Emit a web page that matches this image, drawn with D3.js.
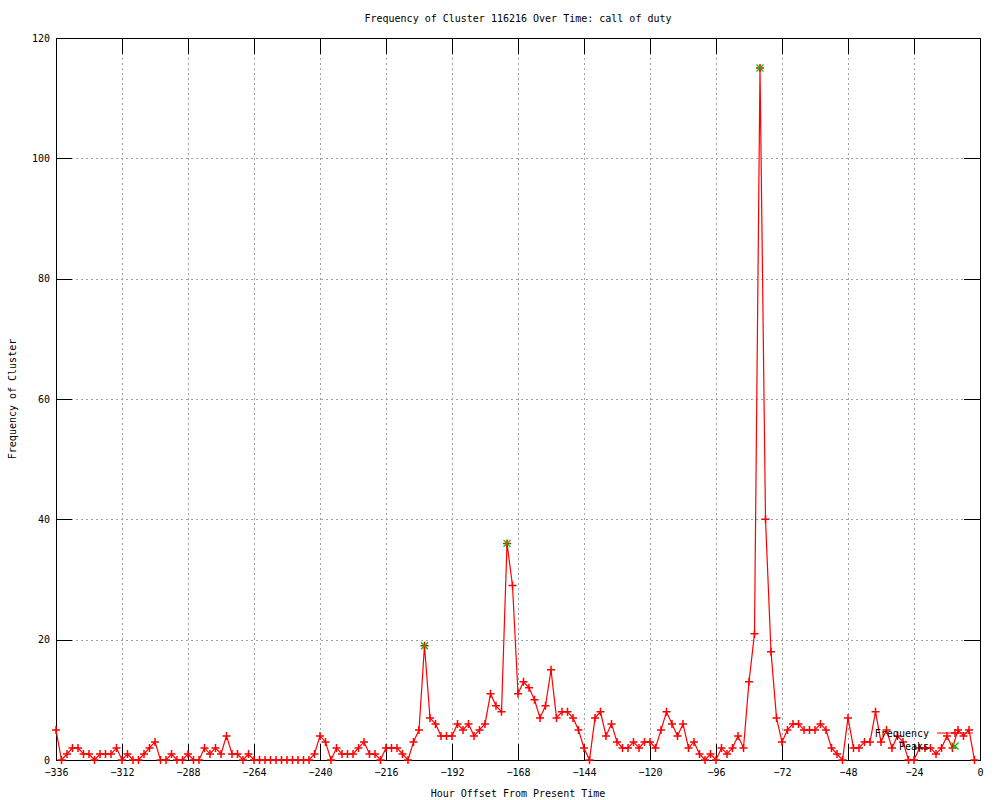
<!DOCTYPE html>
<html>
<head>
<meta charset="utf-8">
<script src="https://cdnjs.cloudflare.com/ajax/libs/d3/7.8.5/d3.min.js"></script>
<style>
  body { margin: 0; background: #fff; }
  svg text { font-family: "DejaVu Sans Mono", monospace; font-size: 10px; fill: #000; }
</style>
</head>
<body>
<div id="chart"></div>
<script>
// hour offsets (x) and cluster frequency (y)
var hours = [
  -336,-334,-332,-330,-328,-326,-324,-322,-320,-318,-316,-314,
  -312,-310,-308,-306,-304,-302,-300,-298,-296,-294,-292,-290,
  -288,-286,-284,-282,-280,-278,-276,-274,-272,-270,-268,-266,
  -264,-262,-260,-258,-256,-254,-252,-250,-248,-246,-244,-242,
  -240,-238,-236,-234,-232,-230,-228,-226,-224,-222,-220,-218,
  -216,-214,-212,-210,-208,-206,-204,-202,-200,-198,-196,-194,
  -192,-190,-188,-186,-184,-182,-180,-178,-176,-174,-172,-170,
  -168,-166,-164,-162,-160,-158,-156,-154,-152,-150,-148,-146,
  -144,-142,-140,-138,-136,-134,-132,-130,-128,-126,-124,-122,
  -120,-118,-116,-114,-112,-110,-108,-106,-104,-102,-100,-98,
  -96,-94,-92,-90,-88,-86,-84,-82,-80,-78,-76,-74,
  -72,-70,-68,-66,-64,-62,-60,-58,-56,-54,-52,-50,
  -48,-46,-44,-42,-40,-38,-36,-34,-32,-30,-28,-26,
  -24,-22,-20,-18,-16,-14,-12,-10,-8,-6,-4,-2
];
var frequency = [
  5,0,1,2,2,1,1,0,1,1,1,2,
  0,1,0,0,1,2,3,0,0,1,0,0,
  1,0,0,2,1,2,1,4,1,1,0,1,
  0,0,0,0,0,0,0,0,0,0,0,1,
  4,3,0,2,1,1,1,2,3,1,1,0,
  2,2,2,1,0,3,5,19,7,6,4,4,
  4,6,5,6,4,5,6,11,9,8,36,29,
  11,13,12,10,7,9,15,7,8,8,7,5,
  2,0,7,8,4,6,3,2,2,3,2,3,
  3,2,5,8,6,4,6,2,3,1,0,1,
  0,2,1,2,4,2,13,21,115,40,18,7,
  3,5,6,6,5,5,5,6,5,2,1,0,
  7,2,2,3,3,8,3,5,2,4,3,0,
  0,2,2,2,1,2,4,2,5,4,5,0
];
var peakHours = [-202, -172, -80];
var peakValues = [19, 36, 115];

var xTicks = [-336,-312,-288,-264,-240,-216,-192,-168,-144,-120,-96,-72,-48,-24,0];
var yTicks = [0,20,40,60,80,100,120];

var title = "Frequency of Cluster 116216 Over Time: call of duty";
var xTitle = "Hour Offset From Present Time";
var yTitle = "Frequency of Cluster";

var freqData = hours.map(function(h, i) { return {h: h, v: frequency[i]}; });
var peakData = peakHours.map(function(h, i) { return {h: h, v: peakValues[i]}; });

// size settings
var tot_width = 1000, tot_height = 800;
var margin = {top: 38, right: 20, bottom: 40, left: 56};
var width = tot_width - margin.left - margin.right,
    height = tot_height - margin.top - margin.bottom;
var tick_len = 16;

var svg = d3.select("#chart").append("svg")
  .attr("width", tot_width).attr("height", tot_height);
var g = svg.append("g")
  .attr("transform", "translate(" + margin.left + "," + margin.top + ")");

var x = d3.scaleLinear().domain([-336, 0]).range([0, width]);
var y = d3.scaleLinear().domain([0, 120]).range([height, 0]);

// grid
var grid = g.append("g").attr("class", "grid").style("shape-rendering", "crispEdges");
grid.selectAll("line.gx").data(xTicks.slice(1, -1)).enter().append("line")
  .attr("x1", function(d) { return Math.round(x(d)) + 0.5; })
  .attr("x2", function(d) { return Math.round(x(d)) + 0.5; })
  .attr("y1", 0).attr("y2", height)
  .attr("stroke", "#a0a0a0").attr("stroke-dasharray", "2,3");
grid.selectAll("line.gy").data(yTicks.slice(1, -1)).enter().append("line")
  .attr("y1", function(d) { return Math.round(y(d)) + 0.5; })
  .attr("y2", function(d) { return Math.round(y(d)) + 0.5; })
  .attr("x1", 0).attr("x2", width)
  .attr("stroke", "#a0a0a0").attr("stroke-dasharray", "2,3");

// axes, ticks inward and mirrored
var xAxis = g.append("g").attr("transform", "translate(0," + height + ")")
  .call(d3.axisBottom(x).tickValues(xTicks).tickSizeInner(-tick_len).tickSizeOuter(0).tickPadding(9).tickFormat(d3.format("d")));
var xAxisTop = g.append("g")
  .call(d3.axisTop(x).tickValues(xTicks).tickSizeInner(-tick_len).tickSizeOuter(0).tickFormat(""));
var yAxis = g.append("g")
  .call(d3.axisLeft(y).tickValues(yTicks).tickSizeInner(-tick_len).tickSizeOuter(0).tickPadding(6));
var yAxisRight = g.append("g").attr("transform", "translate(" + width + ",0)")
  .call(d3.axisRight(y).tickValues(yTicks).tickSizeInner(-tick_len).tickSizeOuter(0).tickFormat(""));
[xAxis, xAxisTop, yAxis, yAxisRight].forEach(function(a) {
  a.select(".domain").remove();
  a.selectAll("line").attr("stroke", "#000").style("shape-rendering", "crispEdges");
  a.selectAll("text").attr("font-family", null).attr("font-size", null).attr("fill", "#000");
});

// border
g.append("rect").attr("x", 0.5).attr("y", 0.5).attr("width", width).attr("height", height)
  .attr("fill", "none").attr("stroke", "#000").style("shape-rendering", "crispEdges");

// frequency line
var line = d3.line().x(function(d) { return x(d.h); }).y(function(d) { return y(d.v); });
g.append("path").datum(freqData)
  .attr("d", line).attr("fill", "none").attr("stroke", "#ff0000").attr("stroke-width", 1.2);

function plus(sel, cx, cy, s, color) {
  sel.append("path")
    .attr("d", "M" + (cx - s) + "," + cy + "H" + (cx + s) + "M" + cx + "," + (cy - s) + "V" + (cy + s))
    .attr("stroke", color).attr("stroke-width", 1.5).attr("fill", "none");
}
function cross(sel, cx, cy, s, color) {
  sel.append("path")
    .attr("d", "M" + (cx - s) + "," + (cy - s) + "L" + (cx + s) + "," + (cy + s) +
               "M" + (cx - s) + "," + (cy + s) + "L" + (cx + s) + "," + (cy - s))
    .attr("stroke", color).attr("stroke-width", 1.3).attr("fill", "none");
}

var marks = g.append("g");
freqData.forEach(function(d) { plus(marks, x(d.h), y(d.v), 4, "#ff0000"); });
peakData.forEach(function(d) { cross(marks, x(d.h), y(d.v), 3.5, "#00c000"); });

// legend
var lg = g.append("g").attr("transform", "translate(" + (width - 43) + "," + (height - 27) + ")");
lg.append("text").attr("x", -8).attr("y", 4).attr("text-anchor", "end").text("Frequency");
lg.append("line").attr("x1", 0).attr("x2", 36).attr("y1", 0).attr("y2", 0)
  .attr("stroke", "#ff0000").attr("stroke-width", 1.2);
plus(lg, 18, 0, 4, "#ff0000");
lg.append("text").attr("x", -8).attr("y", 17).attr("text-anchor", "end").text("Peaks");
cross(lg, 18, 13, 3.5, "#00c000");

// titles
svg.append("text").attr("x", margin.left + width / 2).attr("y", 22)
  .attr("text-anchor", "middle").text(title);
svg.append("text").attr("x", margin.left + width / 2).attr("y", 797)
  .attr("text-anchor", "middle").text(xTitle);
svg.append("text").attr("transform", "translate(16," + (margin.top + height / 2) + ") rotate(-90)")
  .attr("text-anchor", "middle").text(yTitle);
</script>
</body>
</html>
